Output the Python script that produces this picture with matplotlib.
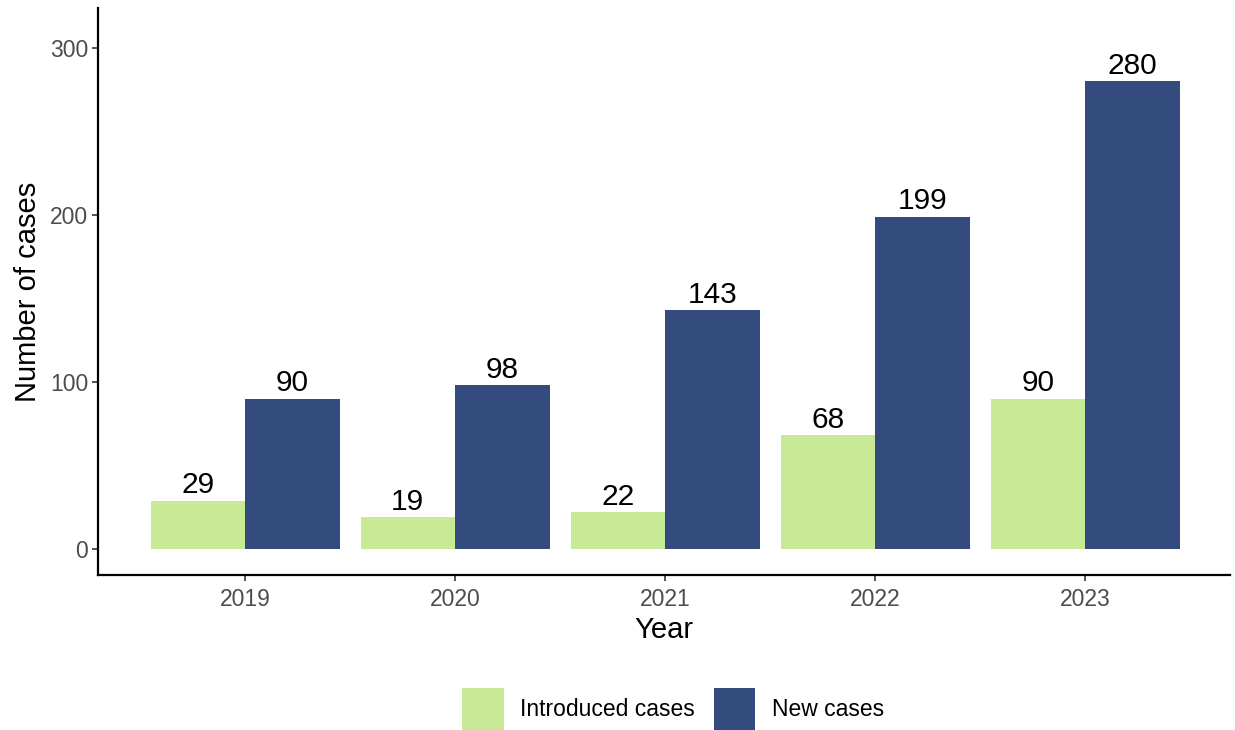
import numpy as np
import matplotlib.pyplot as plt
from matplotlib.patches import Patch

plt.rcParams['font.family'] = ['Liberation Sans', 'DejaVu Sans']

# Data
years = ['2019', '2020', '2021', '2022', '2023']
introduced = [29, 19, 22, 68, 90]
new_cases = [90, 98, 143, 199, 280]

green = '#C8EA96'
blue = '#334B7D'

fig = plt.figure(figsize=(12.35, 7.30), dpi=100)
ax = fig.add_axes([98 / 1235, 1 - 575 / 730, (1230 - 98) / 1235, (575 - 8) / 730])

x = np.arange(len(years))
w = 0.45
b1 = ax.bar(x - w / 2, introduced, width=w, color=green)
b2 = ax.bar(x + w / 2, new_cases, width=w, color=blue)

# value labels on top of bars
for bars, vals in [(b1, introduced), (b2, new_cases)]:
    for rect, v in zip(bars, vals):
        ax.text(rect.get_x() + rect.get_width() / 2, v + 1.0, str(v),
                ha='center', va='bottom', fontsize=21.5, color='black')

ax.set_xlim(-0.7, 4.69)
ax.set_ylim(-15.6, 324)
ax.set_xticks(x)
ax.set_xticklabels(years)
ax.set_yticks([0, 100, 200, 300])

for s in ['top', 'right']:
    ax.spines[s].set_visible(False)
for s in ['left', 'bottom']:
    ax.spines[s].set_linewidth(1.6)
ax.tick_params(axis='both', labelsize=16.5, labelcolor='#4D4D4D', length=4,
               width=1.2, color='#333333')
ax.tick_params(axis='x', pad=5)
ax.tick_params(axis='y', pad=3)

ax.set_xlabel('Year', fontsize=21, labelpad=4)
ax.set_ylabel('Number of cases', fontsize=21, labelpad=6)

handles = [Patch(facecolor=green, label='Introduced cases'),
           Patch(facecolor=blue, label='New cases')]
fig.legend(handles=handles, loc='center', bbox_to_anchor=(0.545, 1 - 709 / 730),
           ncol=2, frameon=False, fontsize=16.5, handlelength=1.83, handleheight=2.44,
           handletextpad=0.7, columnspacing=0.8)

fig.savefig('out.png', dpi=100)
